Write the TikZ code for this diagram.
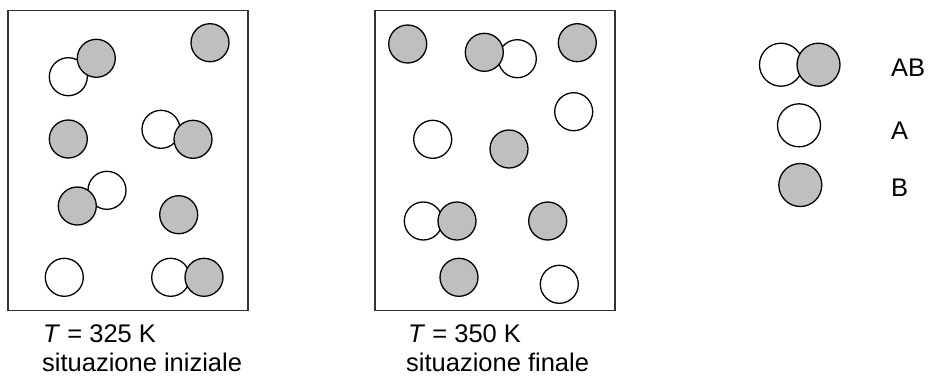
\documentclass[tikz,border=0pt]{standalone}
\usepackage{fontspec}
\setmainfont{Liberation Sans}
\begin{document}
\begin{tikzpicture}[x=1pt,y=-1pt,
  boxframe/.style={draw=black!80,line width=1.5pt},
  atomA/.style={circle,draw=black,line width=1.3pt,fill=white,minimum size=38pt,inner sep=0pt},
  atomB/.style={circle,draw=black,line width=1.3pt,fill=black!25,minimum size=38pt,inner sep=0pt},
  legA/.style={atomA,minimum size=43pt},
  legB/.style={atomB,minimum size=43pt},
  lbl/.style={font=\fontsize{25.5pt}{29pt}\selectfont,inner sep=0pt,anchor=base west}]
\useasboundingbox (0,0) rectangle (928,378);
% boxes
\node[boxframe,minimum width=240pt,minimum height=300pt,inner sep=0pt,anchor=north west] (box1) at (7,9.5) {};
\node[boxframe,minimum width=240pt,minimum height=300pt,inner sep=0pt,anchor=north west] (box2) at (374,9.5) {};
% box 1 particles
\node[atomB] (b1g1) at (210,42.7) {};
\node[atomA] (b1p1a) at (68.3,76.7) {};
\node[atomB] (b1p1b) at (96.3,58.3) {};
\node[atomB] (b1g2) at (68.3,139) {};
\node[atomA] (b1p2a) at (161,129.3) {};
\node[atomB] (b1p2b) at (193,139.3) {};
\node[atomA] (b1p3a) at (107,190.3) {};
\node[atomB] (b1p3b) at (77.3,206) {};
\node[atomB] (b1g3) at (178.7,214.7) {};
\node[atomA] (b1a1) at (64.3,277.3) {};
\node[atomA] (b1p4a) at (170.7,277.3) {};
\node[atomB] (b1p4b) at (204,277.3) {};
% box 2 particles
\node[atomB] (b2g1) at (407.7,44) {};
\node[atomA] (b2p1a) at (517.3,58.7) {};
\node[atomB] (b2p1b) at (484.3,52.3) {};
\node[atomB] (b2g2) at (577.3,42.7) {};
\node[atomA] (b2a1) at (573.7,111.7) {};
\node[atomA] (b2a2) at (432.7,139.3) {};
\node[atomB] (b2g3) at (509,149) {};
\node[atomA] (b2p2a) at (423.3,221) {};
\node[atomB] (b2p2b) at (457,221) {};
\node[atomB] (b2g4) at (547.7,221) {};
\node[atomB] (b2g5) at (459,277.3) {};
\node[atomA] (b2a3) at (559.3,284.3) {};
% captions
\node[lbl] (t1) at (43,342) {\textit{T} = 325 K};
\node[lbl] (s1) at (42,371) {situazione iniziale};
\node[lbl] (t2) at (408,342) {\textit{T} = 350 K};
\node[lbl] (s2) at (406,371) {situazione finale};
% legend
\node[legA] (lab1) at (781,64.7) {};
\node[legB] (lab2) at (818.5,64.7) {};
\node[legA] (la) at (799,125.3) {};
\node[legB] (lb) at (800.3,185) {};
\node[lbl] (tab) at (891,76) {AB};
\node[lbl] (ta) at (891,139) {A};
\node[lbl] (tb) at (891,196.7) {B};
\end{tikzpicture}
\end{document}
